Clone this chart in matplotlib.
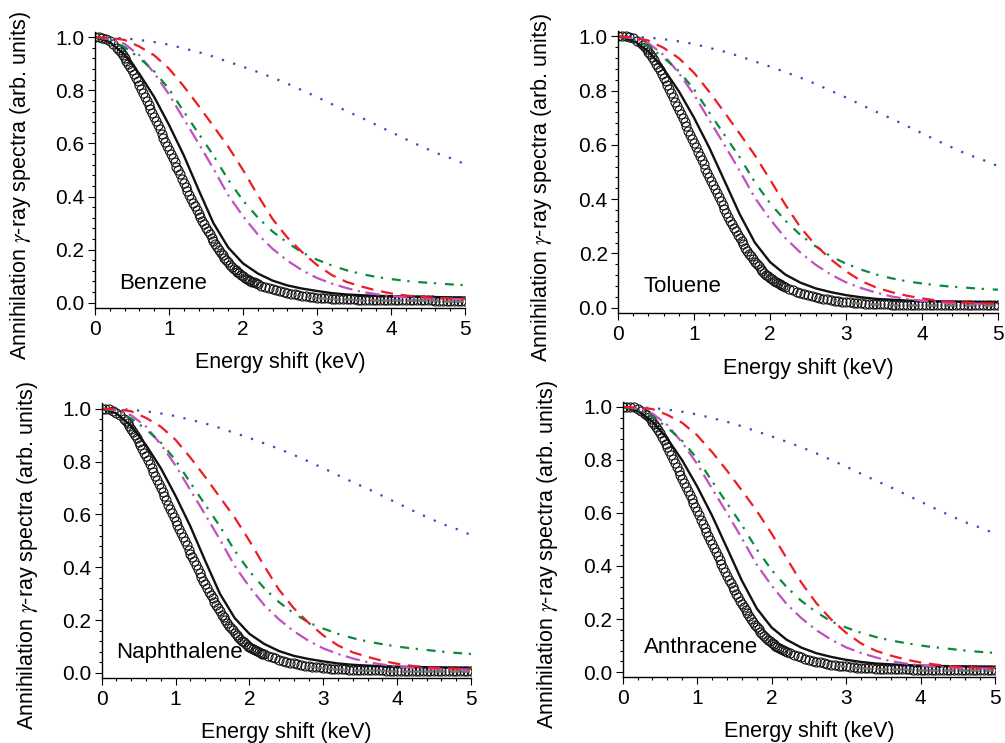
import matplotlib
matplotlib.use("Agg")
import numpy as np
import matplotlib.pyplot as plt
from matplotlib.ticker import MultipleLocator, FormatStrFormatter

plt.rcParams['font.family'] = ['Liberation Sans', 'DejaVu Sans']
plt.rcParams['mathtext.fontset'] = 'stix'

# energy shift (keV) of the measured points: denser sampling on the steep part
exp_energy = np.concatenate([np.linspace(0.0, 0.25, 6),
                             np.linspace(0.3, 2.175, 76),
                             np.linspace(2.2, 5.0, 57)])
# energy grid of the calculated curves
curve_energy = [0.0, 0.2, 0.4, 0.6, 0.8, 1.0, 1.2, 1.4, 1.6, 1.8, 2.0, 2.2, 2.4,
                2.6, 2.8, 3.0, 3.2, 3.4, 3.6, 3.8, 4.0, 4.2, 4.4, 4.6, 4.8, 5.0]

# experimental spectra (open circles)
exp_benzene = [
    1.000, 1.000, 0.998, 0.993, 0.985, 0.975,
    0.961, 0.953, 0.944, 0.934, 0.923, 0.912, 0.900, 0.888, 0.875, 0.862,
    0.848, 0.834, 0.820, 0.805, 0.790, 0.775, 0.760, 0.745, 0.730, 0.715,
    0.699, 0.684, 0.668, 0.653, 0.637, 0.622, 0.606, 0.591, 0.575, 0.560,
    0.544, 0.529, 0.513, 0.498, 0.483, 0.467, 0.452, 0.437, 0.422, 0.407,
    0.392, 0.377, 0.363, 0.349, 0.335, 0.321, 0.308, 0.295, 0.282, 0.269,
    0.257, 0.245, 0.233, 0.221, 0.210, 0.199, 0.189, 0.179, 0.170, 0.161,
    0.152, 0.143, 0.135, 0.128, 0.122, 0.116, 0.110, 0.104, 0.099, 0.094,
    0.090, 0.086, 0.083, 0.079, 0.076, 0.073,
    0.070, 0.064, 0.059, 0.055, 0.050, 0.046, 0.043, 0.039, 0.036, 0.033,
    0.031, 0.028, 0.026, 0.024, 0.022, 0.021, 0.019, 0.018, 0.017, 0.016,
    0.015, 0.014, 0.014, 0.013, 0.013, 0.012, 0.012, 0.011, 0.011, 0.010,
    0.010, 0.010, 0.010, 0.009, 0.009, 0.009, 0.009, 0.009, 0.009, 0.009,
    0.009, 0.009, 0.009, 0.009, 0.009, 0.009, 0.009, 0.009, 0.008, 0.008,
    0.008, 0.008, 0.008, 0.008, 0.008, 0.008, 0.008]
exp_toluene = [
    1.000, 1.000, 1.000, 0.998, 0.993, 0.985,
    0.975, 0.968, 0.961, 0.953, 0.944, 0.934, 0.923, 0.912, 0.900, 0.888,
    0.875, 0.862, 0.848, 0.834, 0.820, 0.805, 0.790, 0.775, 0.760, 0.745,
    0.730, 0.715, 0.699, 0.684, 0.668, 0.653, 0.637, 0.622, 0.606, 0.591,
    0.575, 0.560, 0.544, 0.529, 0.513, 0.498, 0.483, 0.467, 0.452, 0.437,
    0.422, 0.407, 0.392, 0.377, 0.363, 0.349, 0.335, 0.321, 0.308, 0.295,
    0.282, 0.269, 0.257, 0.245, 0.233, 0.221, 0.210, 0.199, 0.189, 0.179,
    0.170, 0.161, 0.152, 0.143, 0.135, 0.128, 0.122, 0.116, 0.110, 0.104,
    0.099, 0.094, 0.090, 0.086, 0.083, 0.079,
    0.076, 0.070, 0.064, 0.059, 0.055, 0.050, 0.046, 0.043, 0.039, 0.036,
    0.033, 0.031, 0.028, 0.026, 0.024, 0.022, 0.021, 0.019, 0.018, 0.017,
    0.016, 0.015, 0.014, 0.014, 0.013, 0.013, 0.012, 0.012, 0.011, 0.011,
    0.010, 0.010, 0.010, 0.010, 0.009, 0.009, 0.009, 0.009, 0.009, 0.009,
    0.009, 0.009, 0.009, 0.009, 0.009, 0.009, 0.009, 0.009, 0.009, 0.008,
    0.008, 0.008, 0.008, 0.008, 0.008, 0.008, 0.008]
exp_naphthalene = exp_benzene
exp_anthracene = exp_toluene

# black solid curves
fit_benzene = [1.000, 0.982, 0.934, 0.862, 0.775, 0.670, 0.555, 0.425, 0.300, 0.208,
               0.148, 0.110, 0.083, 0.065, 0.053, 0.044, 0.036, 0.031, 0.028, 0.026,
               0.024, 0.023, 0.022, 0.021, 0.020, 0.019]
fit_toluene = [1.000, 0.986, 0.945, 0.880, 0.798, 0.700, 0.590, 0.468, 0.345, 0.240,
               0.168, 0.122, 0.092, 0.071, 0.057, 0.046, 0.038, 0.032, 0.029, 0.026,
               0.024, 0.023, 0.022, 0.021, 0.020, 0.019]
fit_naphthalene = fit_benzene
fit_anthracene = fit_toluene

# red dashed curves
red_benzene = [1.000, 0.998, 0.990, 0.965, 0.932, 0.882, 0.815, 0.742, 0.665, 0.588,
               0.500, 0.405, 0.315, 0.245, 0.190, 0.142, 0.104, 0.078, 0.061, 0.046,
               0.035, 0.027, 0.022, 0.018, 0.016, 0.015]
red_toluene = [1.000, 0.997, 0.985, 0.958, 0.920, 0.866, 0.796, 0.720, 0.642, 0.562,
               0.472, 0.380, 0.296, 0.230, 0.178, 0.134, 0.098, 0.074, 0.057, 0.044,
               0.034, 0.026, 0.021, 0.018, 0.016, 0.015]
red_naphthalene = red_benzene
red_anthracene = [1.000, 0.998, 0.992, 0.970, 0.940, 0.893, 0.830, 0.760, 0.685, 0.608,
                  0.522, 0.430, 0.337, 0.260, 0.198, 0.148, 0.108, 0.080, 0.062, 0.047,
                  0.036, 0.028, 0.022, 0.018, 0.016, 0.015]

# green dash-dot curves
green_benzene = [1.000, 0.990, 0.963, 0.922, 0.872, 0.805, 0.720, 0.637, 0.555, 0.463,
                 0.385, 0.321, 0.268, 0.226, 0.189, 0.162, 0.140, 0.122, 0.108, 0.097,
                 0.089, 0.082, 0.077, 0.073, 0.069, 0.066]
green_toluene = green_benzene
green_anthracene = [1.000, 0.990, 0.963, 0.922, 0.872, 0.805, 0.720, 0.637, 0.555, 0.463,
                    0.385, 0.321, 0.268, 0.226, 0.191, 0.168, 0.148, 0.132, 0.119, 0.109,
                    0.100, 0.093, 0.087, 0.081, 0.076, 0.072]
green_naphthalene = green_anthracene

# magenta dash-dot curve and blue dotted curve (same in all panels)
magenta_all = [1.000, 0.993, 0.975, 0.932, 0.865, 0.785, 0.692, 0.600, 0.505, 0.405,
               0.326, 0.257, 0.203, 0.158, 0.122, 0.093, 0.072, 0.055, 0.041, 0.032,
               0.025, 0.020, 0.017, 0.015, 0.014, 0.013]
blue_all = [1.000, 0.999, 0.996, 0.990, 0.982, 0.972, 0.958, 0.944, 0.927, 0.908,
            0.889, 0.869, 0.848, 0.825, 0.800, 0.775, 0.748, 0.722, 0.697, 0.670,
            0.643, 0.616, 0.590, 0.565, 0.545, 0.522]

names = ['Benzene', 'Toluene', 'Naphthalene', 'Anthracene']
exps = [exp_benzene, exp_toluene, exp_naphthalene, exp_anthracene]
fits = [fit_benzene, fit_toluene, fit_naphthalene, fit_anthracene]
reds = [red_benzene, red_toluene, red_naphthalene, red_anthracene]
greens = [green_benzene, green_toluene, green_naphthalene, green_anthracene]

rects = [[0.0945, 0.5855, 0.3682, 0.3715],
         [0.615, 0.5787, 0.378, 0.3795],
         [0.1012, 0.0871, 0.3675, 0.370],
         [0.6196, 0.0884, 0.3705, 0.371]]
name_pos = [(0.33, 0.072), (0.33, 0.079), (0.20, 0.076), (0.29, 0.092)]

fig = plt.figure(figsize=(10.05, 7.43), dpi=100)

for i, name in enumerate(names):
    ax = fig.add_axes(rects[i])
    ax.plot(exp_energy, exps[i], 'o', mfc='none', mec='#111111', ms=6.5, mew=0.8)
    ax.plot(curve_energy, fits[i], color='#111111', lw=1.7)
    ax.plot(curve_energy, blue_all, color='#2f4fb8', lw=1.6, ls=(0, (1, 4.3)))
    ax.plot(curve_energy, magenta_all, color='#c050c0', lw=1.6, ls=(0, (6.5, 2.5, 1, 2.5)))
    ax.plot(curve_energy, greens[i], color='#0a8a3a', lw=1.6, ls=(0, (4, 3, 1, 4)))
    ax.plot(curve_energy, reds[i], color='#ee1c24', lw=1.6, ls=(0, (5.5, 3.5)))

    ax.set_xlim(0, 5)
    ax.set_ylim(-0.02, 1.02)
    ax.xaxis.set_major_locator(MultipleLocator(1))
    ax.xaxis.set_minor_locator(MultipleLocator(0.2))
    ax.yaxis.set_major_locator(MultipleLocator(0.2))
    ax.yaxis.set_minor_locator(MultipleLocator(0.04))
    ax.xaxis.set_major_formatter(FormatStrFormatter('%d'))
    ax.yaxis.set_major_formatter(FormatStrFormatter('%.1f'))
    ax.tick_params(which='both', direction='out', labelsize=15, width=0.8)
    ax.tick_params(which='major', length=5)
    ax.tick_params(which='minor', length=2.5)
    ax.tick_params(axis='x', pad=3.5)
    ax.tick_params(axis='y', pad=2.5)
    for side in ['top', 'right']:
        ax.spines[side].set_visible(False)
    for side in ['left', 'bottom']:
        ax.spines[side].set_linewidth(1.0)

    ax.set_xlabel('Energy shift (keV)', fontsize=15.5)
    ax.set_ylabel(r'Annihilation $\gamma$-ray spectra (arb. units)', fontsize=15.5)
    ax.xaxis.set_label_coords(0.5, -0.16)
    ax.yaxis.set_label_coords(-0.168, 0.445)
    ax.text(name_pos[i][0], name_pos[i][1], name, fontsize=16, va='center')

fig.savefig('out.png', dpi=100)
